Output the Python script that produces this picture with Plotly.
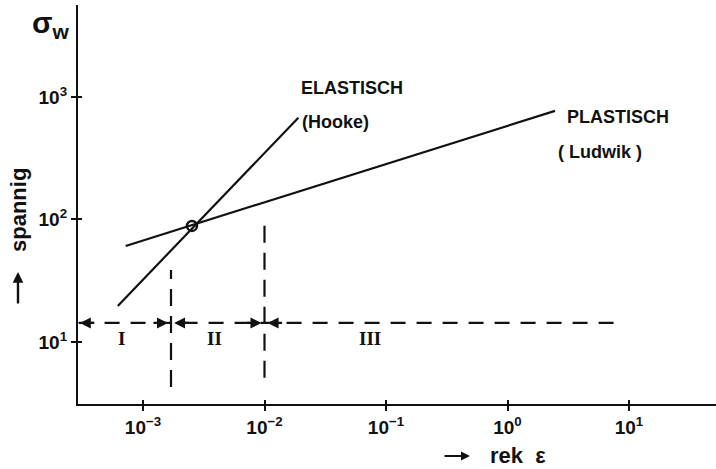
import numpy as np
import plotly.graph_objects as go

# ---- data ----
elastic_x = [6.2e-4, 1.9e-2]
elastic_y = [19.7, 675.0]
plastic_x = [7.2e-4, 2.46]
plastic_y = [60.8, 769.0]
cross_x = [2.53e-3]
cross_y = [88.5]
region_level = 14.3
region_x = [2.95e-4, 8.1]
boundary1_x = 1.7e-3
boundary1_y = [4.3, 38.7]
boundary2_x = 1.0e-2
boundary2_y = [5.1, 90.0]
x_tickvals = [1e-3, 1e-2, 1e-1, 1e0, 1e1]
x_ticktext = ["<b>10<sup>−3</sup></b>", "<b>10<sup>−2</sup></b>", "<b>10<sup>−1</sup></b>",
              "<b>10<sup>0</sup></b>", "<b>10<sup>1</sup></b>"]
y_tickvals = [10, 100, 1000]
y_ticktext = ["<b>10<sup>1</sup></b>", "<b>10<sup>2</sup></b>", "<b>10<sup>3</sup></b>"]
region_labels = ["I", "II", "III"]
region_label_x = [10 ** (-3.18), 10 ** (-2.41), 10 ** (-1.13)]
region_label_y = 10.6

FONT = "Liberation Sans"
BLACK = "#111111"

fig = go.Figure()

line_style = dict(color=BLACK, width=2.2)
fig.add_trace(go.Scatter(x=elastic_x, y=elastic_y, mode="lines", line=line_style, hoverinfo="skip"))
fig.add_trace(go.Scatter(x=plastic_x, y=plastic_y, mode="lines", line=line_style, hoverinfo="skip"))
fig.add_trace(go.Scatter(x=cross_x, y=cross_y, mode="markers",
                         marker=dict(symbol="circle-open", size=10, color=BLACK, line=dict(width=2.5)),
                         hoverinfo="skip"))
# dashed region lines
fig.add_trace(go.Scatter(x=region_x, y=[region_level, region_level], mode="lines",
                         line=dict(color=BLACK, width=2.2, dash="15px,11px"), hoverinfo="skip"))
fig.add_trace(go.Scatter(x=[boundary1_x, boundary1_x], y=boundary1_y, mode="lines",
                         line=dict(color=BLACK, width=2.2, dash="17px,10px"), hoverinfo="skip"))
fig.add_trace(go.Scatter(x=[boundary2_x, boundary2_x], y=boundary2_y, mode="lines",
                         line=dict(color=BLACK, width=2.2, dash="17px,10px"), hoverinfo="skip"))
# invisible trace on overlay axes (for crossing ticks)
fig.add_trace(go.Scatter(x=[1e-2], y=[100], xaxis="x2", yaxis="y2", mode="markers",
                         marker=dict(opacity=0), hoverinfo="skip"))

annotations = []
# arrow heads on the region line
ly = np.log10(region_level)
arrow_specs = [
    (np.log10(region_x[0]) + 0.01, 16),
    (np.log10(boundary1_x) - 0.025, -16),
    (np.log10(boundary1_x) + 0.025, 16),
    (np.log10(boundary2_x) - 0.025, -16),
    (np.log10(boundary2_x) + 0.025, 16),
]
for ax_x, off in arrow_specs:
    annotations.append(dict(x=ax_x, y=ly, xref="x", yref="y", ax=off, ay=0, text="",
                            showarrow=True, arrowhead=2, arrowsize=1.0, arrowwidth=2.2,
                            arrowcolor=BLACK))
for lab, lx in zip(region_labels, region_label_x):
    annotations.append(dict(x=np.log10(lx), y=np.log10(region_label_y), xref="x", yref="y",
                            xanchor="center", yanchor="middle",
                            text="<b>" + lab + "</b>", showarrow=False,
                            font=dict(family="Liberation Serif", size=19, color=BLACK)))

text_font = dict(family=FONT, size=18, color=BLACK)
annotations += [
    dict(x=np.log10(0.0193), y=np.log10(1183), xref="x", yref="y", xanchor="left", yanchor="middle",
         text="<b>ELASTISCH</b>", showarrow=False, font=text_font),
    dict(x=np.log10(0.0196), y=np.log10(625), xref="x", yref="y", xanchor="left", yanchor="middle",
         text="<b>(Hooke)</b>", showarrow=False, font=text_font),
    dict(x=np.log10(2.97), y=np.log10(687), xref="x", yref="y", xanchor="left", yanchor="middle",
         text="<b>PLASTISCH</b>", showarrow=False, font=text_font),
    dict(x=np.log10(2.5), y=np.log10(356), xref="x", yref="y", xanchor="left", yanchor="middle",
         text="<b>( Ludwik )</b>", showarrow=False, font=text_font),
    # sigma_w
    dict(x=(51 - 78) / 638, y=(404 - 24) / 399, xref="paper", yref="paper",
         xanchor="center", yanchor="middle",
         text="<b>σ<sub>w</sub></b>", showarrow=False,
         font=dict(family=FONT, size=30, color=BLACK)),
    # y title
    dict(x=(18 - 78) / 638, y=(404 - 210) / 399, xref="paper", yref="paper",
         xanchor="center", yanchor="middle", text="<b>spannig</b>", textangle=-90,
         showarrow=False, font=dict(family=FONT, size=22, color=BLACK)),
    dict(x=(18 - 78) / 638, y=(404 - 272) / 399, xref="paper", yref="paper", ax=0, ay=33, text="",
         showarrow=True, arrowhead=2, arrowsize=0.9, arrowwidth=2.4, arrowcolor=BLACK),
    # x title
    dict(x=(518 - 78) / 638, y=(404 - 455) / 399, xref="paper", yref="paper",
         xanchor="center", yanchor="middle", text="<b>rek  ε</b>",
         showarrow=False, font=dict(family=FONT, size=22, color=BLACK)),
    dict(x=(470 - 78) / 638, y=(404 - 456) / 399, xref="paper", yref="paper", ax=-27, ay=0, text="",
         showarrow=True, arrowhead=2, arrowsize=0.9, arrowwidth=2.0, arrowcolor=BLACK),
]

axis_common = dict(showgrid=False, zeroline=False, showline=True, linecolor=BLACK, linewidth=2.2,
                   ticks="outside", ticklen=5, tickwidth=2, tickcolor=BLACK,
                   tickfont=dict(family=FONT, size=19, color=BLACK))

fig.update_layout(
    width=716, height=469,
    margin=dict(l=78, r=0, t=5, b=65),
    paper_bgcolor="white", plot_bgcolor="white",
    showlegend=False,
    xaxis=dict(type="log", range=[-3.535, 1.716], tickvals=x_tickvals, ticktext=x_ticktext,
               **axis_common),
    yaxis=dict(type="log", range=[0.494, 3.75], tickvals=y_tickvals, ticktext=y_ticktext,
               **axis_common),
    xaxis2=dict(type="log", range=[-3.535, 1.716], overlaying="x", tickvals=x_tickvals,
                ticks="inside", ticklen=4, tickwidth=2, tickcolor=BLACK, showticklabels=False,
                showgrid=False, zeroline=False, showline=False),
    yaxis2=dict(type="log", range=[0.494, 3.75], overlaying="y", tickvals=y_tickvals,
                ticks="inside", ticklen=4, tickwidth=2, tickcolor=BLACK, showticklabels=False,
                showgrid=False, zeroline=False, showline=False),
    annotations=annotations,
)

fig.write_html("out.html")
